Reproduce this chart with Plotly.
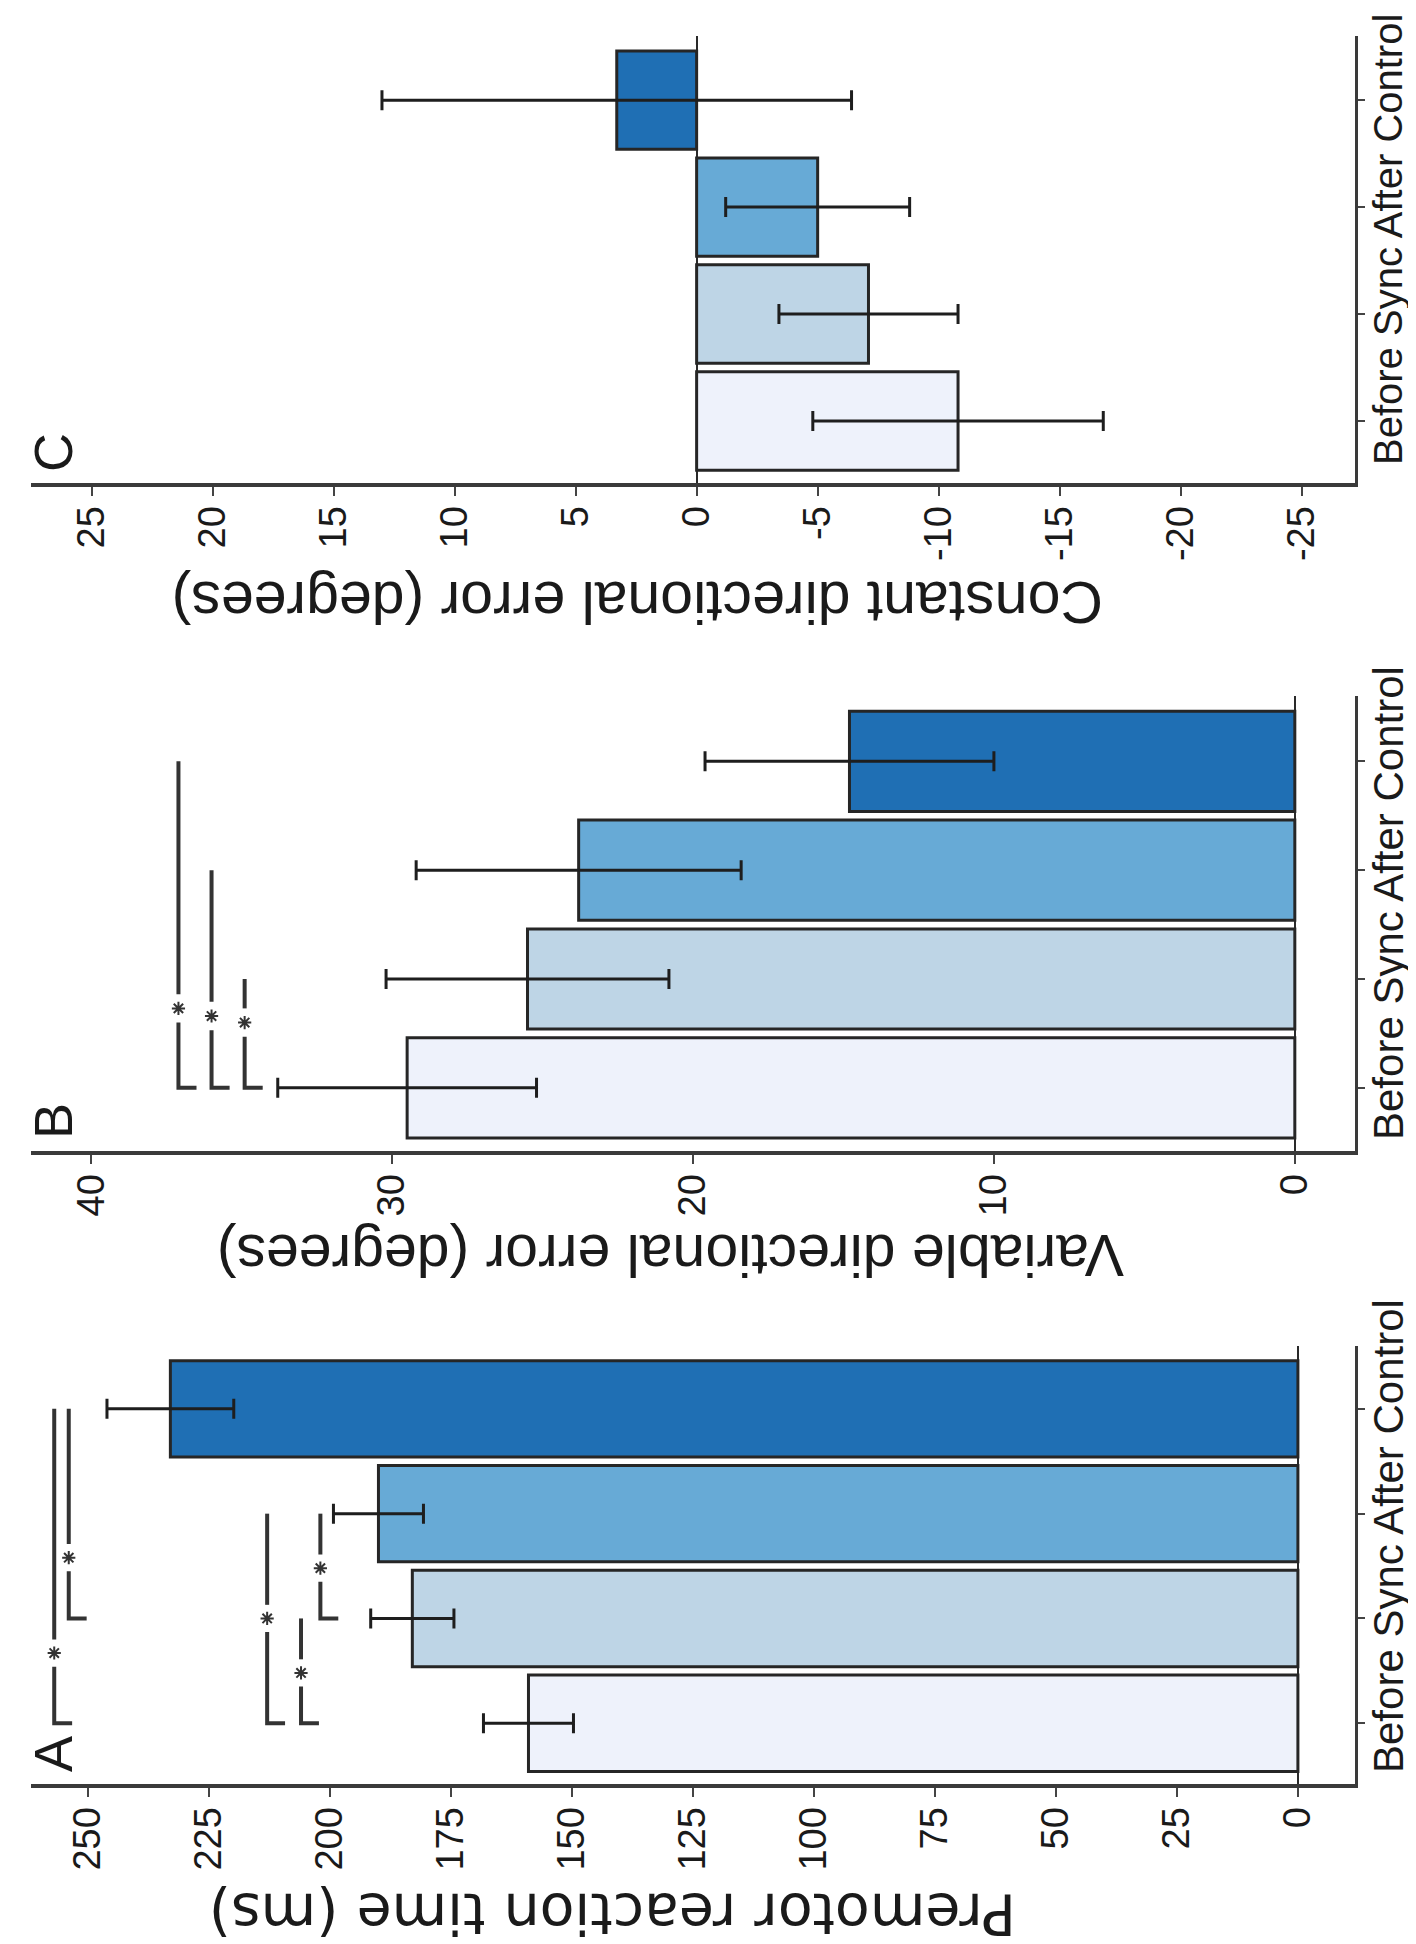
import plotly.graph_objects as go

# ---------------- data ----------------
categories = ["Before", "Sync", "After", "Control"]
bar_colors = ["#eef2fb", "#bed5e6", "#67aad6", "#1f6fb4"]

# Panel A - premotor reaction time
a_values = [159, 183, 190, 233]
a_errors = [9.3, 8.6, 9.3, 13.1]
a_tickvals = [0, 25, 50, 75, 100, 125, 150, 175, 200, 225, 250]
a_ticktext = ["0", "25", "50", "75", "100", "125", "150", "175", "200", "225", "250"]
a_title = "Premotor reaction time (ms)"
# (from category, to category, bracket level, asterisk position)
a_brackets = [(0, 3, 257, 0.67), (1, 3, 254, 1.58), (0, 2, 213, 1.0),
              (0, 1, 206, 0.48), (1, 2, 202, 1.48)]

# Panel B - variable directional error
b_values = [29.5, 25.5, 23.8, 14.8]
b_errors = [4.3, 4.7, 5.4, 4.8]
b_tickvals = [0, 10, 20, 30, 40]
b_ticktext = ["0", "10", "20", "30", "40"]
b_title = "Variable directional error (degrees)"
b_brackets = [(0, 3, 37.1, 0.73), (0, 2, 36.0, 0.66), (0, 1, 34.9, 0.60)]

# Panel C - constant directional error
c_values = [-10.8, -7.1, -5.0, 3.3]
c_errors = [6.0, 3.7, 3.8, 9.7]
c_tickvals = [25, 20, 15, 10, 5, 0, -5, -10, -15, -20, -25]
c_ticktext = ["25", "20", "15", "10", "5", "0", "-5", "-10", "-15", "-20", "-25"]
c_title = "Constant directional error (degrees)"
c_brackets = []

# ---------------- layout helpers ----------------
W, H = 1416, 1944
def px(x):
    return x / W
def py(y):
    return 1 - y / H

X_LEFT, X_RIGHT = 23, 1347
panels = [
    dict(n=1, values=c_values, errors=c_errors, tv=c_tickvals, tt=c_ticktext, title=c_title,
         brackets=c_brackets, top=28, bottom=475, xr=[27.5, -27.2], letter="C",
         tfont="Liberation Sans, Arial, sans-serif", tsize=59, tcx=630, tcy=594, foot=0.6,
         lab_y=232, lab_size=40),
    dict(n=2, values=b_values, errors=b_errors, tv=b_tickvals, tt=b_ticktext, title=b_title,
         brackets=b_brackets, top=688, bottom=1143, xr=[42.0, -2.0], letter="B",
         tfont="Liberation Sans, Arial, sans-serif", tsize=59, tcx=663, tcy=1247, foot=0.6,
         lab_y=895, lab_size=42),
    dict(n=3, values=a_values, errors=a_errors, tv=a_tickvals, tt=a_ticktext, title=a_title,
         brackets=a_brackets, top=1338, bottom=1776, xr=[261.8, -11.8], letter="A",
         tfont="DejaVu Sans, sans-serif", tsize=57, tcx=605, tcy=1906, foot=3.7,
         lab_y=1528, lab_size=42),
]

LINE = "#333333"
TXT = "#1a1a1a"
FONT = "Liberation Sans, Arial, sans-serif"

fig = go.Figure()
annotations = []
layout_axes = {}

for p in panels:
    n = p["n"]
    xa = "x" if n == 1 else f"x{n}"
    ya = "y" if n == 1 else f"y{n}"
    pos = list(range(len(categories)))

    fig.add_trace(go.Bar(
        x=p["values"], y=pos, orientation="h", width=0.92,
        marker=dict(color=bar_colors, line=dict(color="#262626", width=3)),
        error_x=dict(type="data", array=p["errors"], visible=True,
                     thickness=3, width=10, color="#1e1e1e"),
        xaxis=xa, yaxis=ya, hoverinfo="skip", showlegend=False))

    # significance brackets
    gap = 0.13
    for (s, e, lvl, ast) in p["brackets"]:
        xs = [lvl - p["foot"], lvl, lvl, None, lvl, lvl]
        ys = [s, s, ast - gap, None, ast + gap, e]
        fig.add_trace(go.Scatter(x=xs, y=ys, mode="lines",
                                 line=dict(color=LINE, width=4),
                                 xaxis=xa, yaxis=ya, hoverinfo="skip", showlegend=False))
        fig.add_trace(go.Scatter(x=[lvl], y=[ast], mode="markers",
                                 marker=dict(symbol="asterisk-open", size=11, color=LINE,
                                             line=dict(color=LINE, width=2)),
                                 xaxis=xa, yaxis=ya, hoverinfo="skip", showlegend=False))

    xkey = "xaxis" if n == 1 else f"xaxis{n}"
    ykey = "yaxis" if n == 1 else f"yaxis{n}"
    layout_axes[xkey] = dict(
        domain=[px(X_LEFT), px(X_RIGHT)], anchor=ya, range=p["xr"],
        tickmode="array", tickvals=p["tv"], ticktext=p["tt"], tickangle=-90,
        ticks="outside", ticklen=9, tickwidth=2, tickcolor="#444444",
        ticklabelstandoff=-5,
        tickfont=dict(family=FONT, size=38, color=TXT),
        showline=True, linewidth=4, linecolor="#3a3a3a",
        zeroline=True, zerolinecolor="#2a2a2a", zerolinewidth=2,
        showgrid=False, fixedrange=True)
    layout_axes[ykey] = dict(
        domain=[py(p["bottom"]), py(p["top"])], anchor=xa, side="right",
        range=[-0.58, 3.6], tickmode="array", tickvals=pos,
        showticklabels=False, ticks="outside", ticklen=7, tickwidth=2,
        tickcolor="#444444", showline=True, linewidth=3, linecolor="#3a3a3a",
        zeroline=False, showgrid=False, fixedrange=True)

    # category labels (one rotated line, as in the reference)
    annotations.append(dict(
        text=" ".join(categories), xref="paper", yref="paper",
        x=px(1380), y=py(p["lab_y"]), xanchor="center", yanchor="middle",
        textangle=-90, showarrow=False,
        font=dict(family=FONT, size=p["lab_size"], color=TXT)))
    # panel letter
    annotations.append(dict(
        text=p["letter"], xref="paper", yref="paper",
        x=px(45), y=py(p["bottom"] - 30), xanchor="center", yanchor="middle",
        textangle=-90, showarrow=False, font=dict(family=FONT, size=54, color=TXT)))
    # value-axis title (upside down)
    annotations.append(dict(
        text=p["title"], xref="paper", yref="paper",
        x=px(p["tcx"]), y=py(p["tcy"]), xanchor="center", yanchor="middle",
        textangle=180, showarrow=False,
        font=dict(family=p["tfont"], size=p["tsize"], color=TXT)))

fig.update_layout(
    width=W, height=H,
    margin=dict(l=0, r=0, t=0, b=0, pad=0),
    paper_bgcolor="white", plot_bgcolor="white",
    showlegend=False, bargap=0.08,
    annotations=annotations,
    **layout_axes)

fig.write_html("out.html")
